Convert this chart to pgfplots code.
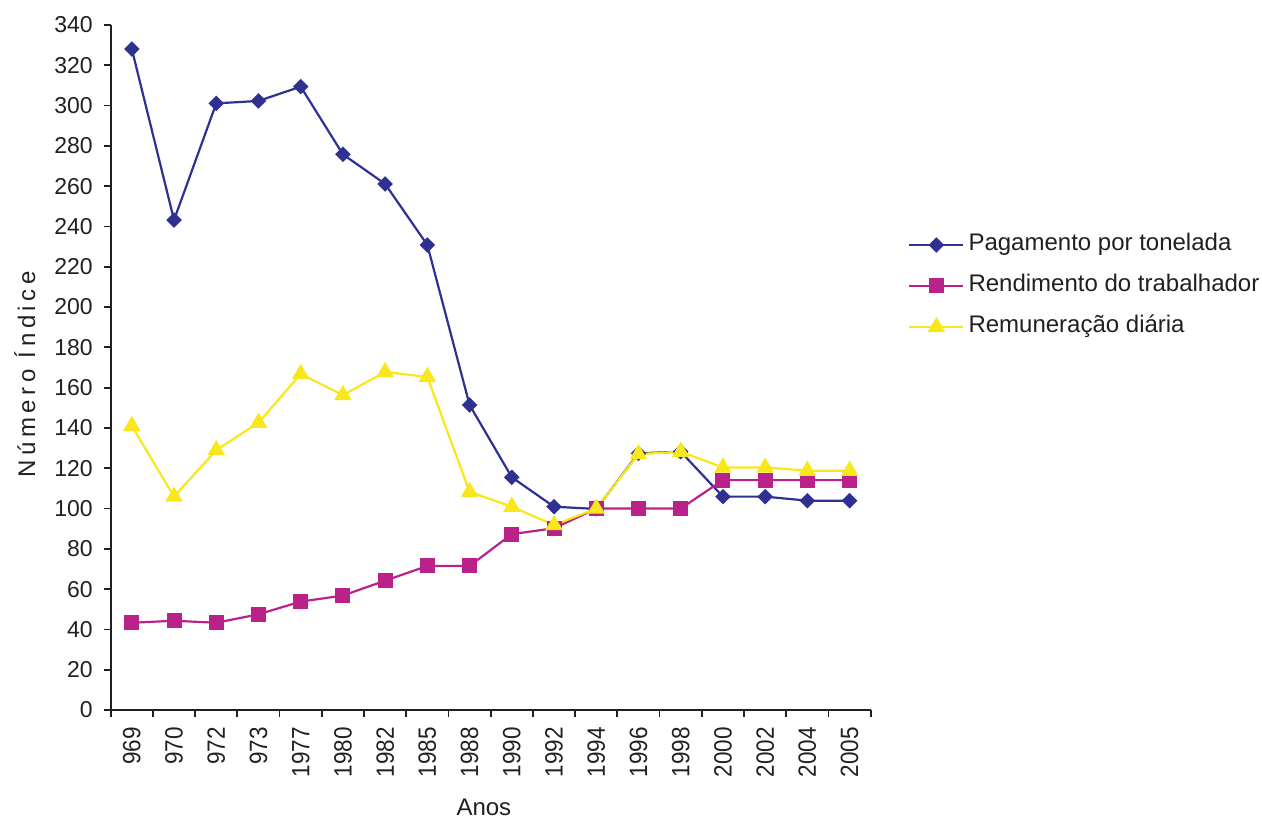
\documentclass[border=0pt]{standalone}
\usepackage{fontspec}
\setmainfont{Liberation Sans}
\usepackage{pgfplots}
\pgfplotsset{compat=1.18}
\definecolor{cblue}{RGB}{46,49,146}
\definecolor{cmag}{RGB}{187,34,137}
\definecolor{cyel}{RGB}{249,231,30}
\definecolor{ctext}{RGB}{35,31,32}
\begin{document}
\begin{tikzpicture}
\useasboundingbox (-55.35pt,-54.5pt) rectangle (575.65pt,355pt);
\begin{axis}[
  at={(0pt,0pt)}, anchor=south west,
  scale only axis, width=380pt, height=342.5pt,
  xmin=-0.5, xmax=17.5, ymin=0, ymax=340,
  axis x line*=bottom, axis y line*=left,
  axis line style={-, ctext, line width=0.9pt},
  tick align=outside,
  major tick length=3.5pt,
  tick style={ctext, line width=0.9pt},
  ytick={0,20,...,340},
  yticklabel style={xshift=-2pt},
  xtick={-0.5,0.5,...,17.5},
  xticklabels={},
  extra x ticks={0,1,...,17},
  extra x tick labels={969,970,972,973,1977,1980,1982,1985,1988,1990,1992,1994,1996,1998,2000,2002,2004,2005},
  extra x tick style={grid=none, major tick length=0pt, tick style={draw=none},
    xticklabel style={yshift=-5.5pt, rotate=90, anchor=east, xscale=0.9,
      font=\fontsize{12.5pt}{14pt}\selectfont}},
  /pgf/number format/assume math mode=true,
  ticklabel style={font=\fontsize{11.5pt}{13pt}\selectfont, text=ctext},
  xlabel={Anos},
  ylabel={Número Índice},
  every axis x label/.style={at={(axis description cs:0.491,-0.1533)}, anchor=base,
    font=\fontsize{12pt}{14pt}\selectfont, text=ctext},
  every axis y label/.style={at={(axis description cs:-0.0996,0.49)}, rotate=90, anchor=base,
    font=\fontsize{12pt}{14pt}\selectfont\addfontfeature{LetterSpace=19}, text=ctext},
  legend style={draw=none, fill=none, at={(axis description cs:1.049,0.619)}, anchor=west,
    font=\fontsize{12pt}{14pt}\selectfont, text=ctext, inner sep=0pt, row sep=4.5pt,
    nodes={inner sep=2pt, text height=9pt, text depth=3pt}},
  legend cell align=left,
  legend image code/.code={\draw[mark repeat=2,mark phase=2] plot coordinates {(0pt,0pt) (13.5pt,0pt) (27pt,0pt)};},
]
\addplot[cblue, line width=1.1pt, mark=square*, mark size=2.2pt, mark options={rotate=45, fill=cblue, draw=cblue}] coordinates {
(0,328.1) (1,243.2) (2,301.1) (3,302.3) (4,309.4) (5,275.8) (6,261.1) (7,230.8) (8,151.4)
(9,115.5) (10,100.9) (11,99.8) (12,127.4) (13,128.2) (14,105.9) (15,105.9) (16,103.9) (17,103.9)};
\addlegendentry{Pagamento por tonelada}
\addplot[cmag, line width=1.1pt, mark=square*, mark size=3.2pt, mark options={fill=cmag, draw=cmag}] coordinates {
(0,43.3) (1,44.3) (2,43.3) (3,47.5) (4,53.8) (5,56.8) (6,64.2) (7,71.5) (8,71.5)
(9,87.3) (10,90.2) (11,100) (12,100) (13,100) (14,114.1) (15,114.1) (16,114.1) (17,114.1)};
\addlegendentry{Rendimento do trabalhador}
\addplot[cyel, line width=1.1pt, mark=triangle*, mark size=4pt, mark options={fill=cyel, draw=cyel}] coordinates {
(0,141) (1,105.9) (2,129) (3,142.6) (4,166.8) (5,156.3) (6,167.8) (7,165.3) (8,108.3)
(9,100.9) (10,91.8) (11,100) (12,127) (13,128.2) (14,120.4) (15,120.4) (16,118.8) (17,118.8)};
\addlegendentry{Remuneração diária}
\end{axis}
\end{tikzpicture}
\end{document}
